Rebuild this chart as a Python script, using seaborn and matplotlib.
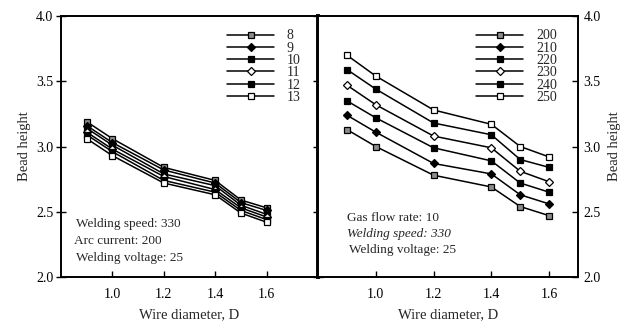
import pandas as pd
import matplotlib.pyplot as plt
import seaborn as sns

sns.set_theme(style="white")
plt.rcParams['font.family'] = ['Liberation Serif', 'DejaVu Serif']

# wire diameter values
diameter = [0.9, 1.0, 1.2, 1.4, 1.5, 1.6]

# left panel: gas flow rate series
gas_labels = ["8", "9", "10", "11", "12", "13"]
gas_values = [
    [3.19, 3.06, 2.84, 2.74, 2.59, 2.53],
    [3.16, 3.03, 2.82, 2.72, 2.57, 2.51],
    [3.14, 3.01, 2.79, 2.70, 2.55, 2.48],
    [3.11, 2.98, 2.77, 2.67, 2.53, 2.46],
    [3.09, 2.96, 2.74, 2.65, 2.51, 2.44],
    [3.06, 2.93, 2.72, 2.63, 2.49, 2.42],
]

# right panel: arc current series
current_labels = ["200", "210", "220", "230", "240", "250"]
current_values = [
    [3.13, 3.00, 2.78, 2.69, 2.54, 2.47],
    [3.24, 3.11, 2.87, 2.79, 2.63, 2.56],
    [3.35, 3.22, 2.99, 2.89, 2.72, 2.65],
    [3.47, 3.32, 3.08, 2.99, 2.81, 2.73],
    [3.59, 3.44, 3.18, 3.09, 2.90, 2.84],
    [3.70, 3.54, 3.28, 3.17, 3.00, 2.92],
]

# marker style per position in legend (top -> bottom)
marker_styles = [
    dict(marker='s', mfc='0.55', ms=4.5),
    dict(marker='D', mfc='black', ms=4),
    dict(marker='s', mfc='black', ms=4.5),
    dict(marker='D', mfc='white', ms=4),
    dict(marker='s', mfc='black', ms=4.5),
    dict(marker='s', mfc='white', ms=5),
]

fig = plt.figure(figsize=(6.4, 3.24), dpi=100)
ax1 = fig.add_axes([61 / 640, 1 - 277 / 324, 257 / 640, 261 / 324])
ax2 = fig.add_axes([318 / 640, 1 - 277 / 324, 260 / 640, 261 / 324])


def draw_panel(ax, labels, values):
    for lab, vals, st in zip(labels, values, marker_styles):
        df = pd.DataFrame({"Wire diameter": diameter, "Bead height": vals})
        sns.lineplot(data=df, x="Wire diameter", y="Bead height", ax=ax,
                     color='black', lw=1.1, mec='black', mew=0.9,
                     label=lab, **st)
    ax.set_ylim(2.0, 4.0)
    ax.set_xticks([1.0, 1.2, 1.4, 1.6])
    ax.set_xticklabels(["1.0", "1.2", "1.4", "1.6"])
    ax.set_yticks([2.0, 2.5, 3.0, 3.5, 4.0])
    ax.set_yticklabels(["2.0", "2.5", "3.0", "3.5", "4.0"])
    ax.set_xlabel("Wire diameter, D", fontsize=10.5, labelpad=5)
    ax.set_ylabel("Bead height", fontsize=10.5)
    for s in ax.spines.values():
        s.set_color('black')
        s.set_linewidth(1.4)
    ax.tick_params(axis='both', labelsize=10, colors='black', length=4,
                   width=1.0)
    ax.tick_params(axis='x', pad=8)
    ax.tick_params(axis='y', pad=2)
    handles, labs = ax.get_legend_handles_labels()
    ax.legend(handles, labs, loc='upper right', frameon=False,
              fontsize=10, handlelength=3.4, labelspacing=-0.05,
              handletextpad=0.9, borderaxespad=0.0)


draw_panel(ax1, gas_labels, gas_values)
ax1.set_xlim(0.8, 1.8)
ax1.get_legend().set_bbox_to_anchor((0.955, 0.97), transform=ax1.transAxes)
ax1.spines['right'].set_linewidth(2.8)
ax1.tick_params(axis='y', left=True, right=True, direction='in')
ax1.yaxis.set_tick_params(which='major', direction='inout', length=7)
ax1.tick_params(axis='x', bottom=True, direction='in')
ax1.text(0.06, 0.192, "Welding speed: 330", transform=ax1.transAxes, fontsize=9.5)
ax1.text(0.05, 0.128, "Arc current: 200", transform=ax1.transAxes, fontsize=9.5)
ax1.text(0.06, 0.063, "Welding voltage: 25", transform=ax1.transAxes, fontsize=9.5)

draw_panel(ax2, current_labels, current_values)
ax2.set_xlim(0.8, 1.7)
ax2.get_legend().set_bbox_to_anchor((0.94, 0.97), transform=ax2.transAxes)
ax2.yaxis.tick_right()
ax2.yaxis.set_label_position('right')
ax2.tick_params(axis='y', right=True, left=False, direction='in', pad=4)
ax2.tick_params(axis='x', bottom=True, direction='in')
ax2.set_ylabel("Bead height", fontsize=10.5, labelpad=5)
ax2.text(0.11, 0.215, "Gas flow rate: 10", transform=ax2.transAxes, fontsize=9.5)
ax2.text(0.11, 0.153, "Welding speed: 330", transform=ax2.transAxes, fontsize=9.5,
         style='italic')
ax2.text(0.12, 0.092, "Welding voltage: 25", transform=ax2.transAxes, fontsize=9.5)

fig.savefig("out.png", dpi=100, facecolor='white')
